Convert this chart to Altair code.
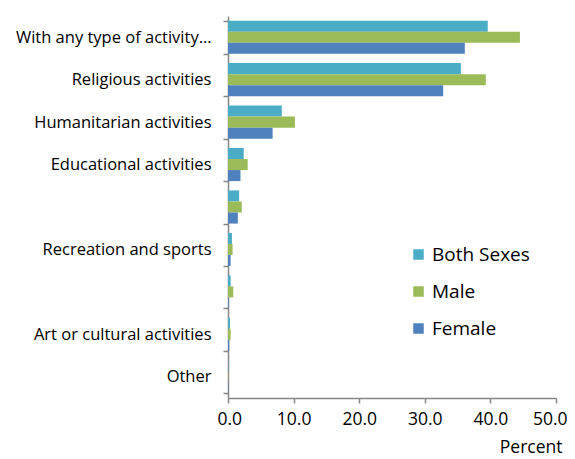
import altair as alt
import pandas as pd

categories = [
    "With any type of activity…",
    "Religious activities",
    "Humanitarian activities",
    "Educational activities",
    " ",
    "Recreation and sports",
    "  ",
    "Art or cultural activities",
    "Other",
]
both_sexes = [39.6, 35.5, 8.2, 2.4, 1.7, 0.6, 0.4, 0.3, 0.05]
male = [44.5, 39.3, 10.2, 3.0, 2.1, 0.7, 0.8, 0.4, 0.05]
female = [36.1, 32.8, 6.8, 1.9, 1.5, 0.4, 0.1, 0.2, 0.02]
series = ["Both Sexes", "Male", "Female"]
colors = ["#4BACC6", "#9BBB59", "#4F81BD"]

rows = []
for i, c in enumerate(categories):
    for s, vals in zip(series, [both_sexes, male, female]):
        rows.append({"Category": c, "Series": s, "Value": vals[i]})
df = pd.DataFrame(rows)

font = "Open Sans"

chart = alt.Chart(df).mark_bar().encode(
    y=alt.Y(
        "Category:N",
        sort=categories,
        scale=alt.Scale(paddingInner=0.22, paddingOuter=0.11),
        axis=alt.Axis(
            title=None,
            tickBand="extent",
            tickSize=5,
            tickColor="#868686",
            tickWidth=1.5,
            domainColor="#868686",
            domainWidth=1.5,
            labelFont=font,
            labelFontSize=16.5,
            labelColor="#000000",
            labelPadding=12,
            labelLimit=300,
        ),
    ),
    yOffset=alt.YOffset("Series:N", sort=series),
    x=alt.X(
        "Value:Q",
        scale=alt.Scale(domain=[0, 50], nice=False),
        axis=alt.Axis(
            values=[0, 10, 20, 30, 40, 50],
            format=".1f",
            grid=False,
            labelFlush=True,
            labelFlushOffset=11,
            tickSize=5,
            tickColor="#868686",
            tickWidth=1.5,
            domainColor="#868686",
            domainWidth=1.5,
            labelFont=font,
            labelFontSize=17.5,
            labelColor="#000000",
            labelPadding=7,
            title="Percent",
            titleFont=font,
            titleFontSize=17.5,
            titleFontWeight="normal",
            titleColor="#000000",
            titleAnchor="end",
            titleAlign="right",
            titleBaseline="bottom",
            titleX=334,
            titleY=58,
        ),
    ),
    color=alt.Color(
        "Series:N",
        sort=series,
        scale=alt.Scale(domain=series, range=colors),
        legend=alt.Legend(
            title=None,
            orient="none",
            legendX=181,
            legendY=229,
            symbolType="square",
            symbolSize=110,
            symbolStrokeWidth=0,
            labelFont=font,
            labelFontSize=19,
            labelColor="#000000",
            rowPadding=17,
            labelOffset=4,
        ),
    ),
).properties(
    width=328,
    height=382,
    autosize=alt.AutoSizeParams(type="none"),
    padding={"left": 220, "top": 8, "right": 11, "bottom": 61},
).configure_view(stroke=None)

chart.save("out.html", embed_options={"renderer": "svg", "actions": False})
